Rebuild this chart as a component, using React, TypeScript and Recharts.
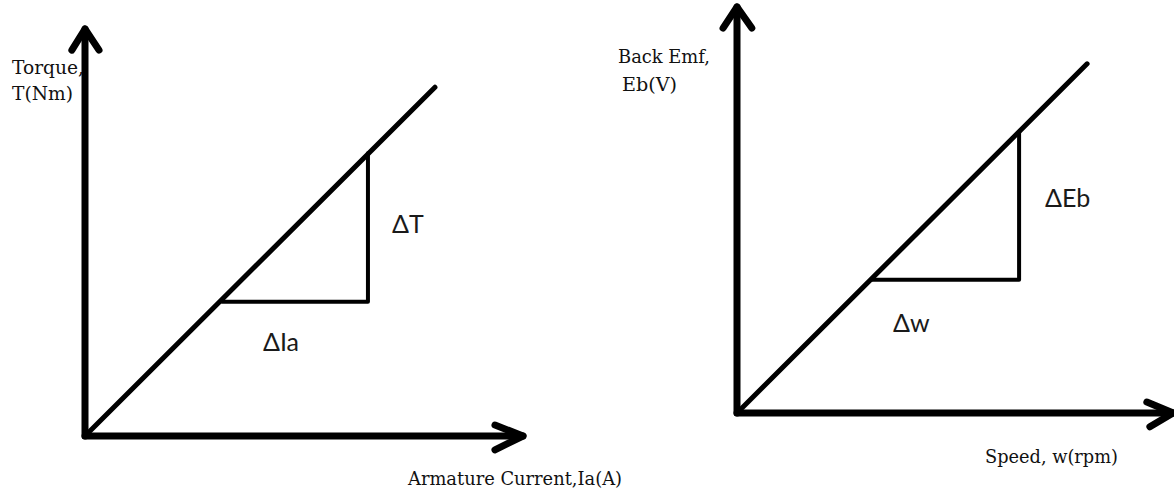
import React from 'react';
import { LineChart, Line, XAxis, YAxis } from 'recharts';

type P = { x: number; y: number };

// ---------- Left diagram: Torque vs Armature current (arbitrary units, axis tips at 10) ----------
const torqueAxisY: P[] = [{ x: 0, y: 0 }, { x: 0, y: 10 }];
const torqueAxisX: P[] = [{ x: 0, y: 0 }, { x: 10, y: 0 }];
const torqueArrowY: P[] = [{ x: -0.3, y: 9.48 }, { x: 0, y: 10 }, { x: 0.32, y: 9.48 }];
const torqueArrowX: P[] = [{ x: 9.36, y: 0.27 }, { x: 10, y: 0 }, { x: 9.36, y: -0.34 }];
const torqueLine: P[] = [{ x: 0, y: 0 }, { x: 7.99, y: 8.57 }];
const torqueTriangle: P[] = [{ x: 3.13, y: 3.3 }, { x: 6.46, y: 3.3 }, { x: 6.46, y: 6.95 }];

// ---------- Right diagram: Back emf vs Speed ----------
const emfAxisY: P[] = [{ x: 0, y: 0 }, { x: 0, y: 10 }];
const emfAxisX: P[] = [{ x: 0, y: 0 }, { x: 10, y: 0 }];
const emfArrowY: P[] = [{ x: -0.32, y: 9.48 }, { x: 0, y: 10 }, { x: 0.34, y: 9.48 }];
const emfArrowX: P[] = [{ x: 9.4, y: 0.27 }, { x: 10, y: 0 }, { x: 9.47, y: -0.34 }];
const emfLine: P[] = [{ x: 0, y: 0 }, { x: 8.03, y: 8.6 }];
const emfTriangle: P[] = [{ x: 3.1, y: 3.28 }, { x: 6.47, y: 3.28 }, { x: 6.47, y: 6.92 }];

// ---------- Text ----------
const leftTitles = ['Torque,', 'T(Nm)'];
const leftXTitle = 'Armature Current,Ia(A)';
const rightTitles = ['Back Emf,', 'Eb(V)'];
const rightXTitle = 'Speed, w(rpm)';
const deltaLabels = ['ΔT', 'ΔIa', 'ΔEb', 'Δw'];

const W = 1174;
const H = 495;

type Frame = { x0: number; x10: number; y0: number; y10: number; xd: [number, number]; yd: [number, number] };

function marginFor(f: Frame) {
  const sx = (f.x10 - f.x0) / 10;
  const sy = (f.y0 - f.y10) / 10;
  const left = f.x0 + f.xd[0] * sx;
  const right = W - (left + (f.xd[1] - f.xd[0]) * sx);
  const top = f.y10 - (f.yd[1] - 10) * sy;
  const bottom = H - (top + (f.yd[1] - f.yd[0]) * sy);
  return { left, right, top, bottom };
}

const leftFrame: Frame = { x0: 85, x10: 523, y0: 436, y10: 29, xd: [-1, 11], yd: [-1, 10.5] };
const rightFrame: Frame = { x0: 737, x10: 1173, y0: 413, y10: 7, xd: [-1, 10.02], yd: [-1, 10.1] };

function seg(key: string, data: P[], width: number) {
  return (
    <Line
      key={key}
      data={data}
      dataKey="y"
      type="linear"
      stroke="#000"
      strokeWidth={width}
      strokeLinecap="round"
      strokeLinejoin="round"
      dot={false}
      activeDot={false}
      isAnimationActive={false}
      legendType="none"
    />
  );
}

function Diagram({ frame, axisY, axisX, arrowY, arrowX, line, tri }: {
  frame: Frame; axisY: P[]; axisX: P[]; arrowY: P[]; arrowX: P[]; line: P[]; tri: P[];
}) {
  return (
    <div style={{ position: 'absolute', left: 0, top: 0 }}>
      <LineChart width={W} height={H} margin={marginFor(frame)}>
        <XAxis type="number" dataKey="x" domain={frame.xd} hide />
        <YAxis type="number" dataKey="y" domain={frame.yd} hide />
        {seg('ay', axisY, 7)}
        {seg('ax', axisX, 7)}
        {seg('ary', arrowY, 7)}
        {seg('arx', arrowX, 7)}
        {seg('ln', line, 5)}
        {seg('tr', tri, 4)}
      </LineChart>
    </div>
  );
}

const serif = { fontFamily: 'DejaVu Serif', fontSize: 18.5, fill: '#111', lengthAdjust: 'spacingAndGlyphs' } as const;
const sans = { fontFamily: 'Lato', fontSize: 25, fill: '#1a1a1a' } as const;

export default function App() {
  return (
    <div style={{ position: 'absolute', left: 0, top: 0, width: W, height: H, background: '#fff' }}>
      <Diagram frame={leftFrame} axisY={torqueAxisY} axisX={torqueAxisX} arrowY={torqueArrowY}
        arrowX={torqueArrowX} line={torqueLine} tri={torqueTriangle} />
      <Diagram frame={rightFrame} axisY={emfAxisY} axisX={emfAxisX} arrowY={emfArrowY}
        arrowX={emfArrowX} line={emfLine} tri={emfTriangle} />
      <svg width={W} height={H} style={{ position: 'absolute', left: 0, top: 0, pointerEvents: 'none' }}>
        <text x={12} y={74} textLength={72} {...serif}>{leftTitles[0]}</text>
        <text x={12} y={100} textLength={61} {...serif}>{leftTitles[1]}</text>
        <text x={408} y={485} textLength={214} {...serif}>{leftXTitle}</text>
        <text x={618} y={63} textLength={92} {...serif}>{rightTitles[0]}</text>
        <text x={622} y={91} textLength={55} {...serif}>{rightTitles[1]}</text>
        <text x={985} y={463} textLength={133} {...serif}>{rightXTitle}</text>
        <text x={392} y={233} {...sans}>{deltaLabels[0]}</text>
        <text x={263} y={351} {...sans}>{deltaLabels[1]}</text>
        <text x={1045} y={207} {...sans}>{deltaLabels[2]}</text>
        <text x={893} y={332} {...sans}>{deltaLabels[3]}</text>
      </svg>
    </div>
  );
}
